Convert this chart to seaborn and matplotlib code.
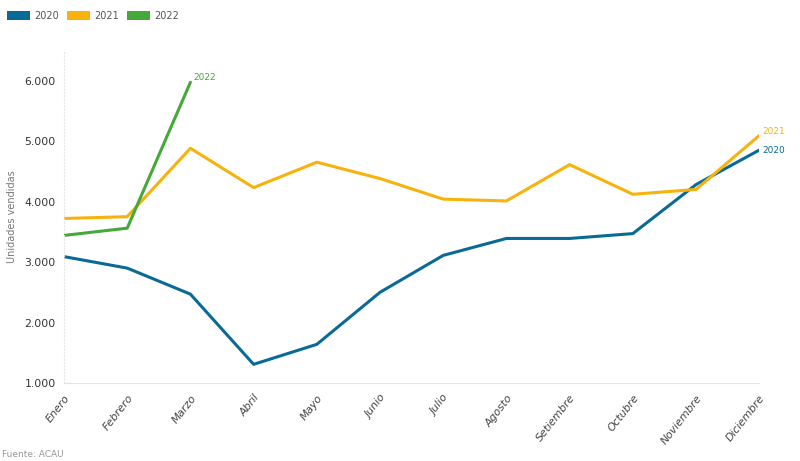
import numpy as np
import pandas as pd
import matplotlib.pyplot as plt
import seaborn as sns
from matplotlib.patches import Patch

meses = ['Enero', 'Febrero', 'Marzo', 'Abril', 'Mayo', 'Junio', 'Julio',
         'Agosto', 'Setiembre', 'Octubre', 'Noviembre', 'Diciembre']
ventas_2020 = [3090, 2900, 2470, 1310, 1640, 2500, 3110, 3390, 3390, 3470, 4280, 4850]
ventas_2021 = [3720, 3750, 4880, 4230, 4650, 4380, 4040, 4010, 4610, 4120, 4200, 5090]
ventas_2022 = [3440, 3560, 5970]
y_ticks = [1000, 2000, 3000, 4000, 5000, 6000]
y_labels = ['1.000', '2.000', '3.000', '4.000', '5.000', '6.000']

colores = {'2020': '#0a6a96', '2021': '#f7b30b', '2022': '#46a83a'}

series = {'2020': ventas_2020, '2021': ventas_2021, '2022': ventas_2022}
filas = []
for anio, vals in series.items():
    for i, v in enumerate(vals):
        filas.append({'mes': i, 'anio': anio, 'unidades': v})
df = pd.DataFrame(filas)

sns.set_theme(style='white')
plt.rcParams['font.family'] = ['DejaVu Sans']

fig = plt.figure(figsize=(8, 4.61), dpi=100)
ax = fig.add_axes([0.08, 0.169, 0.869, 0.722])

sns.lineplot(data=df, x='mes', y='unidades', hue='anio', palette=colores,
             linewidth=2.2, ax=ax, legend=False)

# etiquetas al final de cada linea
for anio, vals in series.items():
    ax.text(len(vals) - 1 + 0.05, vals[-1], anio, color=colores[anio],
            fontsize=6.5, va='bottom' if anio != '2020' else 'center')

ax.set_xlim(0, len(meses) - 1)
ax.set_ylim(1000, 6500)
ax.set_xticks(range(len(meses)))
ax.set_xticklabels(meses, rotation=52, ha='right', rotation_mode='anchor',
                   fontsize=7.8, color='#444444', style='italic')
ax.set_yticks(y_ticks)
ax.set_yticklabels(y_labels, fontsize=7.8, color='#333333')
ax.tick_params(axis='x', length=4, color='#dddddd', pad=3)
ax.tick_params(axis='y', length=0, pad=6)
ax.set_xlabel('')
ax.set_ylabel('Unidades vendidas', fontsize=7, color='#777777', labelpad=5)

for s in ['top', 'right']:
    ax.spines[s].set_visible(False)
ax.spines['bottom'].set_color('#e3e3e3')
ax.spines['bottom'].set_linewidth(0.8)
ax.spines['left'].set_color('#e6e6e6')
ax.spines['left'].set_linestyle((0, (1, 2)))
ax.spines['left'].set_linewidth(0.8)

handles = [Patch(facecolor=colores[a], edgecolor='none', label=a) for a in series]
fig.legend(handles=handles, loc='upper left', bbox_to_anchor=(-0.002, 0.995),
           ncol=3, frameon=False, fontsize=7, handlelength=2.4,
           handleheight=1.0, columnspacing=0.8, handletextpad=0.4,
           labelcolor='#555555')

fig.text(0.003, 0.008, 'Fuente: ACAU', fontsize=6.5, color='#999999')

fig.savefig('out.png', dpi=100)
